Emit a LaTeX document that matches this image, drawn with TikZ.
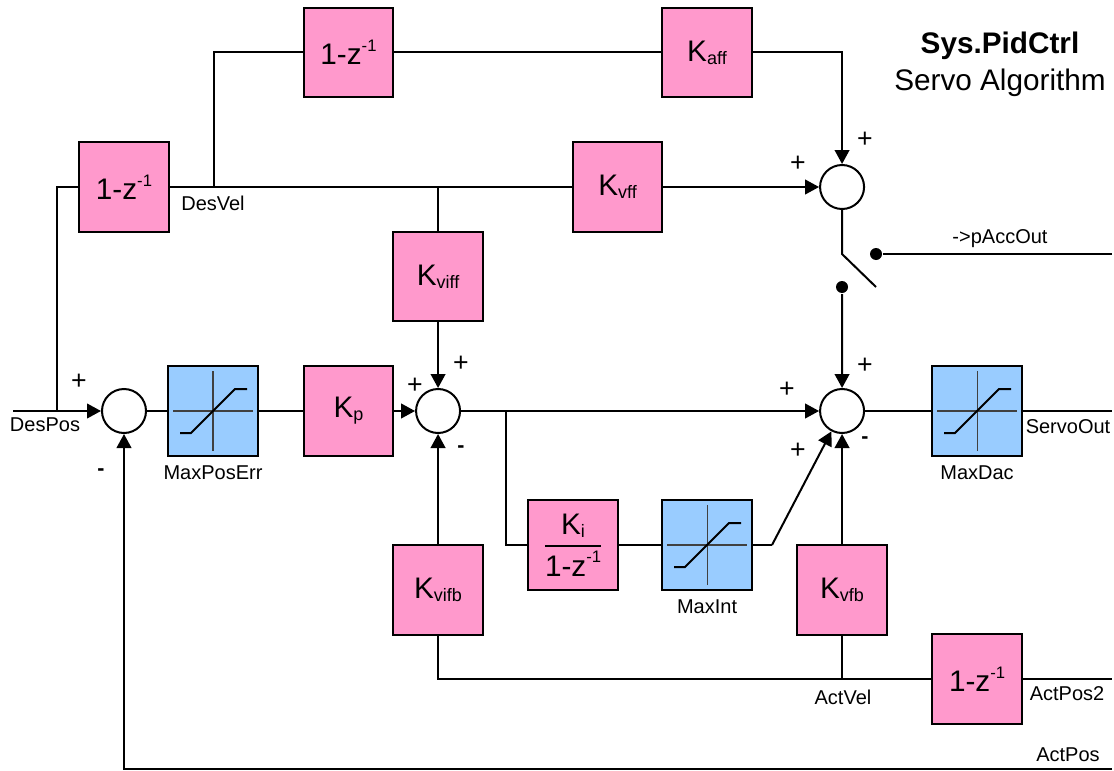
\documentclass[tikz,border=0pt]{standalone}
\usepackage{amsmath}
\usepackage{fontspec}
\setmainfont{Liberation Sans}
\usepackage{xcolor}
\usetikzlibrary{
    arrows.meta,
    positioning
}
\definecolor{gainpink}{HTML}{FF99CC}
\definecolor{satblue}{HTML}{99CCFF}
\newcommand{\gainsub}[1]{K\raisebox{-2.4pt}{\fontsize{13.5}{16}\selectfont #1}}
\newcommand{\oneminusz}{1-z\raisebox{10pt}{\fontsize{12.5}{15}\selectfont -1}}

\begin{document}
\begin{tikzpicture}[
x=0.75pt,
y=-0.75pt,
line width=1.5pt,
on grid,
box/.style={
draw,
minimum width=67pt,
minimum height=67pt,
inner sep=0pt,
align=center,
font=\fontsize{22.3}{26}\selectfont
},
gain/.style={
box,
fill=gainpink
},
satbox/.style={
box,
fill=satblue,
path picture={
\draw[line width=0.8pt, black!75] ([xshift=-30pt]path picture bounding box.center) -- ([xshift=30pt]path picture bounding box.center);
\draw[line width=0.8pt, black!75] ([yshift=-30pt]path picture bounding box.center) -- ([yshift=30pt]path picture bounding box.center);
\draw[line width=1.5pt] (path picture bounding box.center) ++(-33,22) -- ++(11,0) -- ++(44,-44) -- ++(12,0);
}
},
sumnode/.style={
draw,
circle,
fill=white,
minimum size=33pt,
inner sep=0pt
},
dotnode/.style={
circle,
fill=black,
minimum size=9pt,
inner sep=0pt
},
lbl/.style={
font=\fontsize{15}{18}\selectfont,
inner sep=0pt
},
sgn/.style={
font=\fontsize{20}{22}\selectfont,
inner sep=0pt
},
neg/.style={
font=\fontsize{16}{18}\selectfont\bfseries,
inner sep=0pt
},
sig/.style={
-{Triangle[length=10.5pt,width=11pt]}
}
]

\useasboundingbox (0,0) rectangle (1114,771);

% main row
\node[sumnode] (sumPos) at (124,411) {};
\node[satbox, right=66.75pt of sumPos] (satPos) {};
\node[gain, right=101.6pt of satPos] (kp) {\gainsub{p}};
\node[sumnode, right=67.2pt of kp] (sumVel) {};
\node[sumnode, right=303pt of sumVel] (sumOut) {};
\node[satbox, right=101.25pt of sumOut] (satOut) {};

% feedforward
\node[gain, above=100.9pt of sumVel] (kviff) {\gainsub{viff}};
\node[gain, above right=67.1pt and 134.6pt of kviff] (kvff) {\gainsub{vff}};
\node[sumnode, above=168pt of sumOut] (sumAcc) {};
\node[gain, above=168pt of sumPos] (diffPos) {\oneminusz};
\node[gain, above=268.9pt of kp] (diffVel) {\oneminusz};
\node[gain, right=268.9pt of diffVel] (kaff) {\gainsub{aff}};

% feedback and integrator
\node[gain, below=134.25pt of sumVel] (kvifb) {\gainsub{vifb}};
\node[gain, below=134.25pt of sumOut] (kvfb) {\gainsub{vfb}};
\node[gain, below right=100.5pt and 101.25pt of sumVel] (ki)
{$\genfrac{}{}{1.1pt}{0}{\mbox{\gainsub{i}}}{\mbox{\oneminusz}}$};
\node[satbox, right=100.5pt of ki] (satInt) {};
\node[gain, below=201pt of satOut] (diffAct) {\oneminusz};

% switch
\node[dotnode] (dotOut) at (876,254) {};
\node[dotnode] (dotIn) at (842,287) {};
\coordinate (swTop) at (842,254);
\coordinate (swEnd) at (876,287);

% free ends and taps
\coordinate (posIn) at (13,411);
\coordinate (posTap) at (57,411);
\coordinate (velTap) at (214,187);
\coordinate (intTap) at (506,411);
\coordinate (intBend) at (772,545);
\coordinate (accEnd) at (1112,254);
\coordinate (servoEnd) at (1112,411);
\coordinate (act2End) at (1112,679);
\coordinate (actEnd) at (1112,769);

% labels
\node[lbl] (tDesPos) at (45,425) {DesPos};
\node[lbl] (tDesVel) at (213,203) {DesVel};
\node[lbl, below=46.5pt of satPos] (tMaxPos) {MaxPosErr};
\node[lbl, below=46.5pt of satOut] (tMaxDac) {MaxDac};
\node[lbl, below=46.5pt of satInt] (tMaxInt) {MaxInt};
\node[lbl] (tServo) at (1068,427) {ServoOut};
\node[lbl] (tActVel) at (843,697) {ActVel};
\node[lbl] (tAct2) at (1067,694) {ActPos2};
\node[lbl] (tAct) at (1068,755) {ActPos};
\node[lbl] (tAcc) at (1000,239) {->pAccOut};
\node[font=\fontsize{22.3}{26}\selectfont\bfseries, inner sep=0pt] (title) at (1000,46) {Sys.PidCtrl};
\node[font=\fontsize{22.3}{26}\selectfont, inner sep=0pt] (subtitle) at (1000,83) {Servo Algorithm};

% signs
\node[sgn] (s1) at (79,382) {+};
\node[neg] (s2) at (101,472) {-};
\node[sgn] (s3) at (461,364) {+};
\node[sgn] (s4) at (415,386) {+};
\node[neg] (s5) at (461,449) {-};
\node[sgn] (s6) at (798,164) {+};
\node[sgn] (s7) at (865,140) {+};
\node[sgn] (s8) at (787,390) {+};
\node[sgn] (s9) at (865,366) {+};
\node[sgn] (s10) at (798,451) {+};
\node[neg] (s11) at (865,440) {-};

% connectors
\draw[sig] (posIn) -- (sumPos);
\draw (posTap) |- (diffPos);
\draw (sumPos) -- (satPos);
\draw (satPos) -- (kp);
\draw[sig] (kp) -- (sumVel);
\draw[sig] (sumVel) -- (sumOut);
\draw (sumOut) -- (satOut);
\draw (satOut) -- (servoEnd);

\draw (diffPos) -- (kvff);
\draw (velTap) |- (diffVel);
\draw (diffVel) -- (kaff);
\draw[sig] (kaff) -| (sumAcc);
\draw[sig] (kvff) -- (sumAcc);
\draw (kviff |- kvff) -- (kviff);
\draw[sig] (kviff) -- (sumVel);

\draw (sumAcc) -- (swTop) -- (swEnd);
\draw (dotOut) -- (accEnd);
\draw[sig] (dotIn) -- (sumOut);

\draw (intTap) |- (ki);
\draw (ki) -- (satInt);
\draw (satInt) -- (intBend);
\draw[sig] (intBend) -- (sumOut);

\draw[sig] (kvifb) -- (sumVel);
\draw[sig] (kvfb) -- (sumOut);
\draw (kvifb) |- (diffAct);
\draw (kvfb) -- (kvfb |- diffAct);
\draw (diffAct) -- (act2End);
\draw[sig] (actEnd) -| (sumPos);

\end{tikzpicture}
\end{document}
